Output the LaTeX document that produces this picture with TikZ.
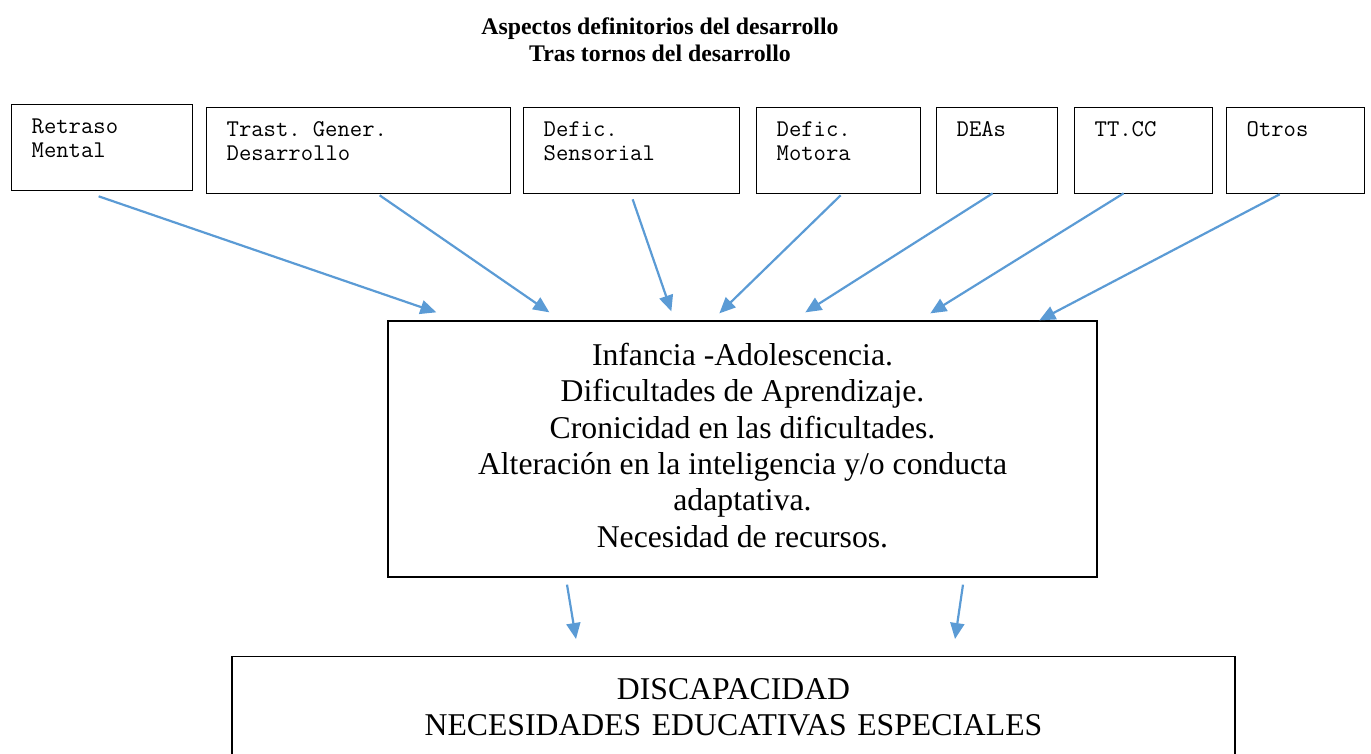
\documentclass[tikz,border=0pt]{standalone}
\usepackage{fontspec}
\setmainfont{Liberation Serif}
\usetikzlibrary{arrows.meta}
\definecolor{arrowblue}{RGB}{91,155,213}

\tikzset{
  topbox/.style={draw, anchor=north west, line width=1.3pt, inner xsep=20pt, inner ysep=0pt,
    align=left, text height=29pt, text depth=57pt,
    font=\ttfamily\fontsize{24}{24}\selectfont},
  bigfont/.style={font=\fontsize{31.7}{36.3}\selectfont}
}

\begin{document}
\begin{tikzpicture}[x=1pt,y=-1pt]

      \clip (0,0) rectangle (1371,753);

      \node (title) [anchor=north, inner sep=0pt, align=center,
        font=\bfseries\fontsize{23.8}{26.5}\selectfont] at (660,16)
        {\strut Aspectos definitorios del desarrollo\\Tras tornos del desarrollo\strut};

      \begin{scope}[every node/.style={topbox}]
        \node (rm)  [text width=141pt] at (11,104)   {Retraso\\Mental};
        \node (tgd) [text width=264pt] at (206,107)  {Trast. Gener.\\Desarrollo};
        \node (ds)  [text width=176pt] at (523,107)  {Defic.\\Sensorial};
        \node (dm)  [text width=124pt] at (756,107)  {Defic.\\Motora};
        \node (dea) [text width=81pt]  at (936,107)  {DEAs};
        \node (tcc) [text width=98pt]  at (1074,107) {TT.CC};
        \node (otr) [text width=98pt]  at (1226,107) {Otros};
      \end{scope}

      \node (mid) [draw, line width=1.3pt, bigfont, align=center,
        minimum width=709pt, minimum height=256pt] at (742.5,449)
        {\strut Infancia -Adolescencia.\\Dificultades de Aprendizaje.\\Cronicidad en las dificultades.\\
         Alteración en la inteligencia y/o conducta\\adaptativa.\\Necesidad de recursos.\strut};

      \node (low) [draw, line width=1.3pt, bigfont, anchor=north, align=center,
        inner xsep=20pt, inner ysep=0pt, text width=963pt, text height=42.5pt, text depth=150pt]
        at (733.5,656) {DISCAPACIDAD\\NECESIDADES EDUCATIVAS ESPECIALES};

      \begin{scope}[every edge/.style={draw, arrowblue, line width=2.2pt,
          -{Triangle[length=16pt,width=14pt]}}]
        \path ([shift={(-3.5,5)}]rm.south)  edge ([shift={(49,-8)}]mid.north west);
        \path ([shift={(21,1)}]tgd.south)   edge ([shift={(162,-8)}]mid.north west);
        \path ([shift={(1,5)}]ds.south)     edge ([shift={(284,-9)}]mid.north west);
        \path ([shift={(2,1)}]dm.south)     edge ([shift={(332,-7)}]mid.north west);
        \path ([shift={(-4.5,-1)}]dea.south) edge ([shift={(418,-8)}]mid.north west);
        \path ([shift={(-20,-1)}]tcc.south) edge ([shift={(543,-7)}]mid.north west);
        \path ([shift={(-16,0)}]otr.south)  edge ([shift={(652,0)}]mid.north west);
        \path ([shift={(-175.5,7)}]mid.south) edge ([shift={(-157.5,-17)}]low.north);
        \path ([shift={(220.5,7)}]mid.south)  edge ([shift={(221.5,-17)}]low.north);
      \end{scope}

    \end{tikzpicture}
\end{document}
